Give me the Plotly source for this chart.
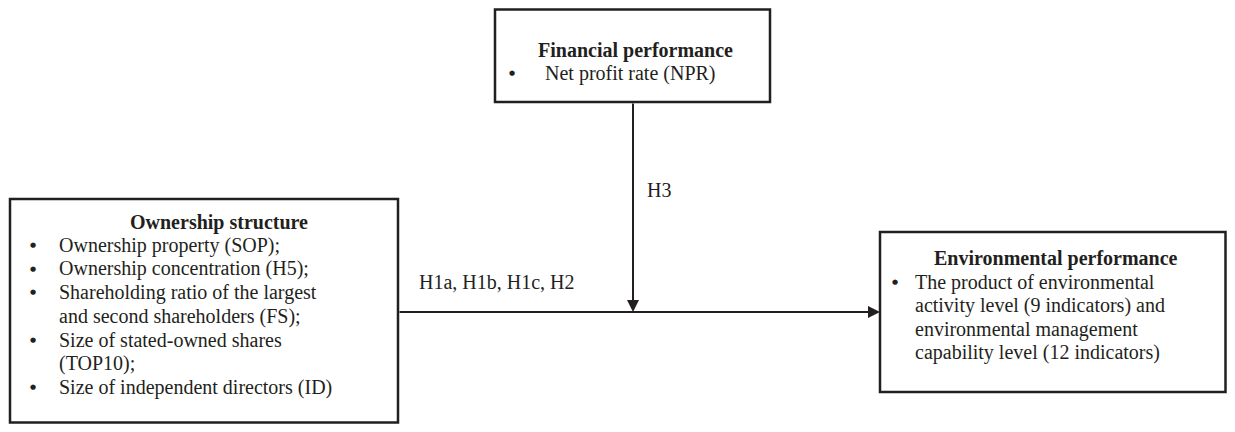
import plotly.graph_objects as go

# ---- content ----
own_title = "Ownership structure"
own_items = ["Ownership property (SOP);", "Ownership concentration (H5);",
             "Shareholding ratio of the largest", "and second shareholders (FS);",
             "Size of stated-owned shares", "(TOP10);", "Size of independent directors (ID)"]
own_bullets = [True, True, True, False, True, False, True]

fin_title = "Financial performance"
fin_items = ["Net profit rate (NPR)"]
fin_bullets = [True]

env_title = "Environmental performance"
env_items = ["The product of environmental", "activity level (9 indicators) and",
             "environmental management", "capability level (12 indicators)"]
env_bullets = [True, False, False, False]

path_labels = ["H1a, H1b, H1c, H2", "H3"]

FONT = "Liberation Serif"
COL = "#231f20"
FS = 20
OFF = 8  # page body margin
W, H = 1235, 432

fig = go.Figure()
shapes = []
ann = []

def box(x0, y0, x1, y1):
    shapes.append(dict(type="rect", x0=x0, y0=y0, x1=x1, y1=y1, xref="x", yref="y",
                       line=dict(color=COL, width=2.5), fillcolor="rgba(0,0,0,0)"))

def block(title, tx, ty, items, bullets, bx, ix, y0, dy):
    ann.append(dict(x=tx, y=ty, text="<b>" + title + "</b>", showarrow=False,
                    xanchor="center", yanchor="middle", font=dict(family=FONT, size=FS, color=COL)))
    for i, (t, b) in enumerate(zip(items, bullets)):
        y = y0 + i * dy
        if b:
            ann.append(dict(x=bx, y=y, text="●", showarrow=False, xanchor="center",
                            yanchor="middle", font=dict(family="DejaVu Sans", size=7, color=COL)))
        ann.append(dict(x=ix, y=y, text=t, showarrow=False, xanchor="left", yanchor="middle",
                        font=dict(family=FONT, size=FS, color=COL)))

box(10, 199, 398, 422.5)
box(495, 9.5, 770, 102)
box(880, 232, 1225.5, 392)

block(own_title, 219, 222, own_items, own_bullets, 33, 57, 245, 23.7)
block(fin_title, 635, 50, fin_items, fin_bullets, 512, 543, 73, 23.7)
block(env_title, 1056, 258, env_items, env_bullets, 895, 913, 282, 23.5)

# arrows
ann.append(dict(x=880, y=312, ax=398, ay=312, xref="x", yref="y", axref="x", ayref="y",
                showarrow=True, arrowhead=2, arrowsize=1.2, arrowwidth=2, arrowcolor=COL, text=""))
ann.append(dict(x=633, y=312, ax=633, ay=102, xref="x", yref="y", axref="x", ayref="y",
                showarrow=True, arrowhead=2, arrowsize=1.2, arrowwidth=2, arrowcolor=COL, text=""))

ann.append(dict(x=417, y=282, text=path_labels[0], showarrow=False, xanchor="left", yanchor="middle",
                font=dict(family=FONT, size=FS, color=COL)))
ann.append(dict(x=645, y=190, text=path_labels[1], showarrow=False, xanchor="left", yanchor="middle",
                font=dict(family=FONT, size=FS, color=COL)))

fig.update_layout(
    width=W - 2 * OFF, height=H - 2 * OFF, margin=dict(l=0, r=0, t=0, b=0),
    paper_bgcolor="white", plot_bgcolor="white",
    xaxis=dict(range=[OFF, W - OFF], visible=False, fixedrange=True),
    yaxis=dict(range=[H - OFF, OFF], visible=False, fixedrange=True),
    shapes=shapes, annotations=ann, showlegend=False,
)
fig.write_html("out.html")
